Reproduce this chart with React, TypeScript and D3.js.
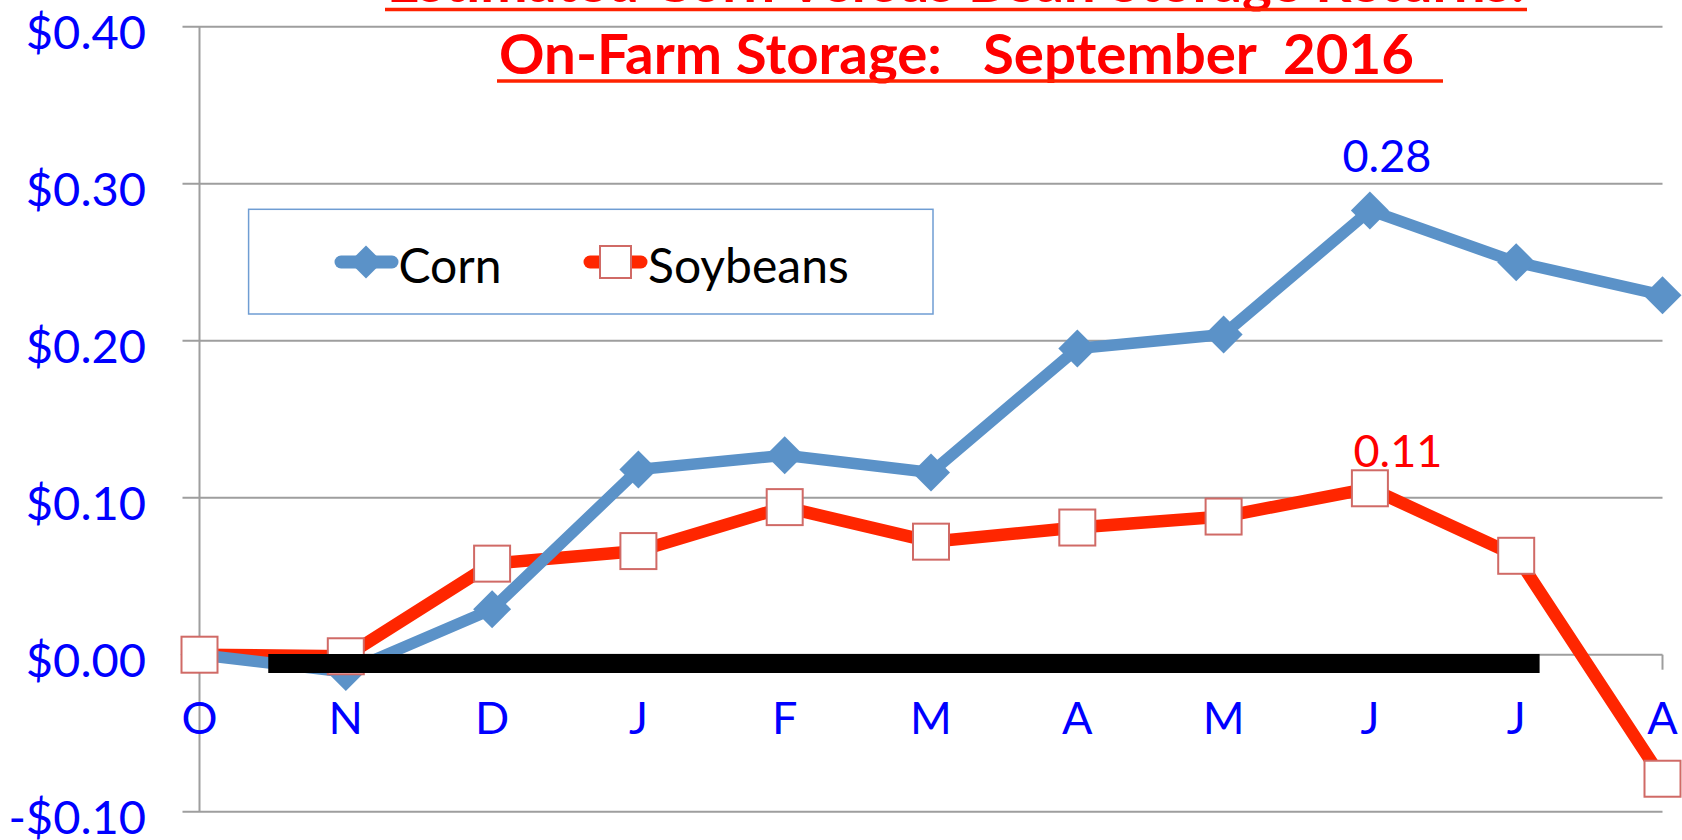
import React, { useRef, useEffect } from "react";
import * as d3 from "d3";

const months = ["O", "N", "D", "J", "F", "M", "A", "M", "J", "J", "A"];
const corn = [0, -0.011, 0.029, 0.118, 0.127, 0.116, 0.195, 0.204, 0.283, 0.25, 0.229];
const soybeans = [0.0, -0.001, 0.058, 0.066, 0.094, 0.072, 0.081, 0.088, 0.106, 0.063, -0.079];
const yTicks = [-0.1, 0, 0.1, 0.2, 0.3, 0.4];
const yTickLabels = ["-$0.10", "$0.00", "$0.10", "$0.20", "$0.30", "$0.40"];
const titleLines = ["Estimated Corn Versus Bean Storage Returns:", "On-Farm Storage:   September  2016"];
const seriesNames = ["Corn", "Soybeans"];
// labelled points: [series, month index, text]
const pointLabels = [
  { series: "corn", index: 8, text: "0.28" },
  { series: "soy", index: 8, text: "0.11" },
];
// the black zero marker drawn over the chart, in month-index / value units
const zeroBar = { from: 0.47, to: 9.16, value: -0.0056 };

const FONT = "Lato, 'Open Sans', sans-serif";
const CORN = "#5B92C8";
const SOY = "#FF2600";
const SOY_EDGE = "#D06A66";
const GRID = "#9E9E9E";

const App = () => {
  const svgRef = useRef(null);

  useEffect(() => {
    const svg = d3.select(svgRef.current);
    svg.selectAll("*").remove();

    const width = 1682;
    const height = 840;
    const plot = { left: 199.5, right: 1662.5, top: 26.7, bottom: 811.7 };

    const x = d3.scaleLinear().domain([0, months.length - 1]).range([plot.left, plot.right]);
    const y = d3.scaleLinear().domain([-0.1, 0.4]).range([plot.bottom, plot.top]);

    svg.append("rect").attr("width", width).attr("height", height).attr("fill", "#fff");

    // gridlines + y ticks
    svg
      .append("g")
      .selectAll("line")
      .data(yTicks)
      .join("line")
      .attr("x1", plot.left - 17)
      .attr("x2", plot.right)
      .attr("y1", (d) => y(d))
      .attr("y2", (d) => y(d))
      .attr("stroke", GRID)
      .attr("stroke-width", 2);

    // y axis line
    svg
      .append("line")
      .attr("x1", plot.left)
      .attr("x2", plot.left)
      .attr("y1", y(0.4))
      .attr("y2", y(-0.1))
      .attr("stroke", GRID)
      .attr("stroke-width", 2);

    // category ticks on the zero line
    svg
      .append("g")
      .selectAll("line")
      .data(months.map((m, i) => i).slice(1))
      .join("line")
      .attr("x1", (d) => x(d))
      .attr("x2", (d) => x(d))
      .attr("y1", y(0))
      .attr("y2", y(0) + 15)
      .attr("stroke", GRID)
      .attr("stroke-width", 2);

    // y tick labels
    svg
      .append("g")
      .selectAll("text")
      .data(yTicks)
      .join("text")
      .attr("x", 146)
      .attr("y", (d) => y(d) + 22)
      .attr("text-anchor", "end")
      .style("font-family", FONT)
      .style("font-size", "47px")
      .style("fill", "#0000FF")
      .text((d, i) => yTickLabels[i]);

    // category labels
    svg
      .append("g")
      .selectAll("text")
      .data(months)
      .join("text")
      .attr("x", (d, i) => x(i))
      .attr("y", 734)
      .attr("text-anchor", "middle")
      .style("font-family", FONT)
      .style("font-size", "45px")
      .style("fill", "#0000FF")
      .text((d) => d);

    // title
    const titleX = [387, 499];
    const titleLen = [1138, 915];
    const titleY = [2, 74];
    const underline = [
      [385, 1527, 9.5],
      [497, 1443, 81],
    ];
    titleLines.forEach((t, i) => {
      svg
        .append("text")
        .attr("x", titleX[i])
        .attr("y", titleY[i])
        .attr("textLength", titleLen[i])
        .attr("lengthAdjust", "spacingAndGlyphs")
        .style("white-space", "pre")
        .style("font-family", FONT)
        .style("font-weight", "bold")
        .style("font-size", "55px")
        .style("fill", "#FF0000")
        .text(t);
      svg
        .append("line")
        .attr("x1", underline[i][0])
        .attr("x2", underline[i][1])
        .attr("y1", underline[i][2])
        .attr("y2", underline[i][2])
        .attr("stroke", "#FF2200")
        .attr("stroke-width", 3.5);
    });

    // legend
    const lg = svg.append("g");
    lg.append("rect")
      .attr("x", 248.6)
      .attr("y", 209.3)
      .attr("width", 684.4)
      .attr("height", 104.7)
      .attr("fill", "#fff")
      .attr("stroke", "#6F9DD3")
      .attr("stroke-width", 1.5);
    const ly = 262;
    lg.append("line")
      .attr("x1", 341).attr("x2", 392).attr("y1", ly).attr("y2", ly)
      .attr("stroke", CORN).attr("stroke-width", 13).attr("stroke-linecap", "round");
    lg.append("path")
      .attr("transform", `translate(366,${ly}) rotate(45)`)
      .attr("d", d3.symbol(d3.symbolSquare, 33 * 33 / 2)())
      .attr("fill", CORN);
    lg.append("line")
      .attr("x1", 590).attr("x2", 641).attr("y1", ly).attr("y2", ly)
      .attr("stroke", SOY).attr("stroke-width", 13).attr("stroke-linecap", "round");
    lg.append("rect")
      .attr("x", 600).attr("y", ly - 16).attr("width", 31).attr("height", 32)
      .attr("fill", "#fff").attr("stroke", SOY_EDGE).attr("stroke-width", 2);
    [398.5, 648].forEach((lx, i) => {
      lg.append("text")
        .attr("x", lx)
        .attr("y", 283)
        .style("font-family", FONT)
        .style("font-size", "48px")
        .style("fill", "#000")
        .text(seriesNames[i]);
    });

    const line = d3
      .line()
      .x((d, i) => x(i))
      .y((d) => y(d));

    // soybean line
    svg
      .append("path")
      .datum(soybeans)
      .attr("fill", "none")
      .attr("stroke", SOY)
      .attr("stroke-width", 12.5)
      .attr("stroke-linejoin", "round")
      .attr("d", line);

    // corn line
    svg
      .append("path")
      .datum(corn)
      .attr("fill", "none")
      .attr("stroke", CORN)
      .attr("stroke-width", 11.5)
      .attr("stroke-linejoin", "round")
      .attr("d", line);

    // corn diamonds
    svg
      .append("g")
      .selectAll("path")
      .data(corn)
      .join("path")
      .attr("transform", (d, i) => `translate(${x(i)},${y(d)}) rotate(45)`)
      .attr("d", d3.symbol(d3.symbolSquare, 38 * 38 / 2)())
      .attr("fill", CORN);

    // soybean squares
    svg
      .append("g")
      .selectAll("rect")
      .data(soybeans)
      .join("rect")
      .attr("x", (d, i) => x(i) - 18)
      .attr("y", (d) => y(d) - 18)
      .attr("width", 36)
      .attr("height", 36)
      .attr("fill", "#fff")
      .attr("stroke", SOY_EDGE)
      .attr("stroke-width", 2);

    // black bar
    svg
      .append("line")
      .attr("x1", x(zeroBar.from))
      .attr("x2", x(zeroBar.to))
      .attr("y1", y(zeroBar.value))
      .attr("y2", y(zeroBar.value))
      .attr("stroke", "#000")
      .attr("stroke-width", 19);

    // point labels
    pointLabels.forEach((p) => {
      const v = p.series === "corn" ? corn[p.index] : soybeans[p.index];
      const dx = p.series === "corn" ? 17 : 28;
      const dy = p.series === "corn" ? -38 : -21;
      svg
        .append("text")
        .attr("x", x(p.index) + dx)
        .attr("y", y(v) + dy)
        .attr("text-anchor", "middle")
        .style("font-family", FONT)
        .style("font-size", "45px")
        .style("fill", p.series === "corn" ? "#0000FF" : "#FF0000")
        .text(p.text);
    });
  }, []);

  return (
    <svg
      ref={svgRef}
      width={1682}
      height={840}
      style={{ position: "absolute", left: 0, top: 0, display: "block" }}
    ></svg>
  );
};

export default App;
